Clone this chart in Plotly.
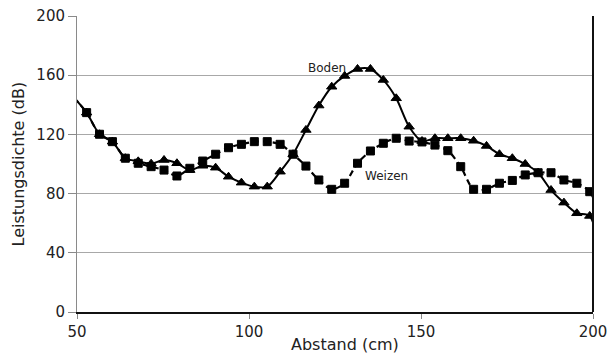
import plotly.graph_objects as go

# Data
abstand = [49.05, 52.8, 56.55, 60.3, 64.05, 67.8, 71.55, 75.3, 79.05, 82.8,
           86.55, 90.3, 94.05, 97.8, 101.55, 105.3, 109.05, 112.8, 116.55, 120.3,
           124.05, 127.8, 131.55, 135.3, 139.05, 142.8, 146.55, 150.3, 154.05, 157.8,
           161.55, 165.3, 169.05, 172.8, 176.55, 180.3, 184.05, 187.8, 191.55, 195.3,
           199.05, 202.8]
weizen = [145, 134.7, 120.1, 115.1, 103.9, 100.5, 98.2, 95.9, 91.9, 97.1,
          102.0, 106.6, 111.0, 113.3, 115.1, 115.1, 113.3, 106.6, 98.6, 89.2,
          82.9, 87.0, 100.5, 108.8, 114.0, 117.4, 115.5, 114.9, 112.8, 109.0,
          98.2, 82.9, 82.9, 87.0, 88.9, 92.6, 94.1, 94.1, 89.2, 87.0,
          81.3, 60]
boden = [145, 134.7, 120.1, 115.1, 103.9, 101.8, 100.2, 102.7, 100.5, 95.9,
         98.8, 97.5, 91.4, 87.4, 84.7, 84.7, 94.8, 106.6, 123, 139.5,
         152.2, 159.5, 164.2, 164.2, 156.8, 144.4, 125.2, 115.5, 117.4, 117.4,
         117.4, 115.7, 112.2, 106.6, 103.9, 100, 94.1, 82.4, 73.9, 66.7,
         64.9, 25]
x_ticks = [50, 100, 150, 200]
y_ticks = [0, 40, 80, 120, 160, 200]

INK = "#000000"
TXT = "#222222"
FONT = "DejaVu Sans"

n = len(abstand)
sq_sizes = [0] + [8] * (n - 2) + [0]
tri_sizes = [0] + [9] * (n - 2) + [0]

fig = go.Figure()
fig.add_trace(go.Scatter(
    x=abstand, y=weizen, mode="lines", name="Weizen",
    line=dict(color=INK, width=2.2, dash="6px,4px", shape="spline", smoothing=0.8),
    hoverinfo="skip",
))
fig.add_trace(go.Scatter(
    x=abstand, y=boden, mode="lines", name="Boden",
    line=dict(color=INK, width=2, shape="spline", smoothing=0.8),
    hoverinfo="skip",
))
fig.add_trace(go.Scatter(
    x=abstand, y=weizen, mode="markers", name="Weizen",
    marker=dict(symbol="square", size=sq_sizes, color=INK, opacity=1,
                line=dict(color=INK, width=1)),
))
fig.add_trace(go.Scatter(
    x=abstand, y=boden, mode="markers", name="Boden",
    marker=dict(symbol="triangle-up", size=tri_sizes, color=INK, opacity=1,
                line=dict(color=INK, width=1)),
))

fig.update_layout(
    width=608, height=356,
    margin=dict(l=77, r=15, t=16, b=44),
    paper_bgcolor="white", plot_bgcolor="white",
    showlegend=False,
    font=dict(family=FONT, size=15, color=TXT),
)
fig.update_xaxes(
    range=[50, 200], tickmode="array", tickvals=x_ticks,
    showgrid=False, zeroline=False, automargin=False,
    showline=True, linecolor="#111111", linewidth=1.5,
    ticks="outside", ticklen=5, tickcolor="#888888", tickwidth=1,
    tickfont=dict(family=FONT, size=15, color=TXT),
)
fig.update_yaxes(
    range=[0, 200], tickmode="array", tickvals=y_ticks,
    showgrid=True, gridcolor="#a8a8a8", gridwidth=1,
    zeroline=False, automargin=False,
    showline=True, linecolor="#8a8a8a", linewidth=1,
    ticks="outside", ticklen=8, tickcolor="#8a8a8a", tickwidth=1,
    tickfont=dict(family=FONT, size=15, color=TXT),
)
# right border of the plot area
fig.add_shape(type="line", xref="paper", yref="paper", x0=1, x1=1, y0=0, y1=1,
              line=dict(color="#111111", width=2))

fig.add_annotation(x=-0.1153, y=0.5, xref="paper", yref="paper",
                   text="Leistungsdichte (dB)", textangle=-90, showarrow=False,
                   xanchor="center", yanchor="middle",
                   font=dict(family=FONT, size=16, color=TXT))
fig.add_annotation(x=128.05, y=-0.11, xref="x", yref="paper",
                   text="Abstand (cm)", showarrow=False,
                   xanchor="center", yanchor="middle",
                   font=dict(family=FONT, size=16, color=TXT))
fig.add_annotation(x=122.8, y=165.2, text="Boden", showarrow=False,
                   xanchor="center", yanchor="middle",
                   font=dict(family=FONT, size=12, color=TXT))
fig.add_annotation(x=140.0, y=92.2, text="Weizen", showarrow=False,
                   xanchor="center", yanchor="middle",
                   font=dict(family=FONT, size=12, color=TXT))

fig.write_html("out.html")
